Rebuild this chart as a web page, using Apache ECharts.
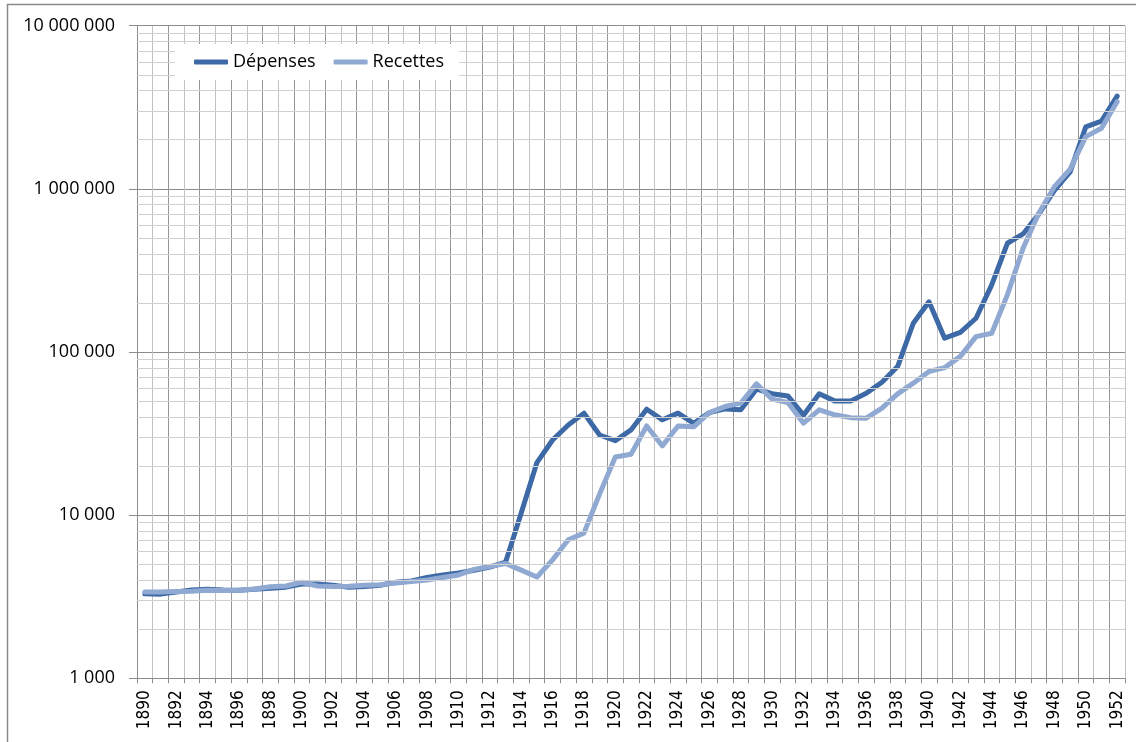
<!DOCTYPE html>
<html>
<head>
<meta charset="utf-8">
<style>
  html, body { margin: 0; padding: 0; background: #fff; }
  #chart { width: 1136px; height: 742px; }
</style>
<script src="https://cdn.jsdelivr.net/npm/echarts@6/dist/echarts.min.js"></script>
</head>
<body>
<div id="chart"></div>
<script>
// Années 1890–1952
const years = [];
for (let y = 1890; y <= 1952; y++) years.push(String(y));

// Dépenses publiques (échelle logarithmique)
const depenses = [
  3300, 3280, 3380, 3480, 3520, 3480, 3470, 3520, 3560, 3620,
  3780, 3780, 3720, 3620, 3650, 3720, 3880, 3950, 4150, 4300,
  4420, 4600, 4800, 5150, 10300, 21000, 28900, 35700, 42200, 31000,
  28600, 33300, 44600, 38400, 42200, 36500, 42500, 44800, 44200, 59200,
  55500, 53800, 41000, 55400, 50000, 50000, 55900, 65300, 81400, 150000,
  203000, 121500, 132000, 161000, 258000, 464000, 529000, 700000, 980000, 1270000,
  2400000, 2600000, 3700000
];

// Recettes publiques
const recettes = [
  3380, 3380, 3400, 3420, 3460, 3450, 3460, 3530, 3640, 3680,
  3880, 3680, 3650, 3660, 3720, 3740, 3840, 3920, 4000, 4150,
  4300, 4650, 4850, 5050, 4600, 4180, 5320, 7060, 7760, 13500,
  22700, 23600, 35200, 26600, 35200, 34800, 42500, 46300, 48600, 63800,
  51400, 49000, 36600, 44200, 41200, 39600, 39300, 45300, 55400, 64400,
  75900, 80200, 94000, 124300, 130400, 223800, 432500, 708000, 1031000, 1320000,
  2090000, 2350000, 3420000
];

const seriesNames = ['Dépenses', 'Recettes'];
const yMin = 1000, yMax = 10000000;

// Lignes secondaires du quadrillage logarithmique : 2..9 × 10^k
const minorLevels = [];
for (let d = yMin; d < yMax; d *= 10) {
  for (let m = 2; m <= 9; m++) minorLevels.push(d * m);
}

function spaced(v) {
  return String(Math.round(v)).replace(/\B(?=(\d{3})+(?!\d))/g, ' ');
}

const chart = echarts.init(document.getElementById('chart'), null, { renderer: 'canvas' });

chart.setOption({
  animation: false,
  backgroundColor: '#ffffff',
  graphic: [{
    type: 'rect',
    shape: { x: 7.5, y: 4.5, width: 1140, height: 760 },
    style: { fill: 'none', stroke: '#8a8a8a', lineWidth: 1.5 },
    silent: true,
    z: -10
  }],
  grid: { left: 137, right: 11, top: 25.7, bottom: 63.7, containLabel: false },
  legend: {
    data: seriesNames,
    left: 175,
    top: 44,
    padding: [9, 15, 9, 19],
    backgroundColor: '#ffffff',
    itemGap: 18,
    itemWidth: 34,
    itemHeight: 5,
    icon: 'roundRect',
    textStyle: { fontFamily: 'Open Sans', fontSize: 18, color: '#000', padding: [2, 0, 0, 0] },
    z: 20
  },
  xAxis: {
    type: 'category',
    data: years,
    boundaryGap: true,
    axisLine: { show: true, lineStyle: { color: '#8c8c8c', width: 1 } },
    axisTick: { show: true, interval: 0, length: 5, lineStyle: { color: '#8c8c8c' } },
    splitLine: { show: true, interval: 0, lineStyle: { color: ['#969696', '#c2c2c2'], width: 1 } },
    axisLabel: {
      interval: 1,
      rotate: 90,
      margin: 12,
      fontFamily: "'Liberation Sans Narrow', 'DejaVu Sans Condensed', 'Liberation Sans'",
      fontSize: 17,
      color: '#000'
    }
  },
  yAxis: {
    type: 'log',
    logBase: 10,
    min: yMin,
    max: yMax,
    splitNumber: 4,
    axisLine: { show: true, lineStyle: { color: '#8c8c8c', width: 1 } },
    axisTick: { show: true, length: 8, lineStyle: { color: '#8c8c8c' } },
    splitLine: { show: true, lineStyle: { color: '#8c8c8c', width: 1 } },
    axisLabel: {
      margin: 22,
      fontFamily: 'Open Sans',
      fontSize: 18,
      color: '#000',
      formatter: spaced
    }
  },
  series: [
    {
      name: 'quadrillage',
      type: 'line',
      data: [],
      silent: true,
      z: 1,
      markLine: {
        silent: true,
        symbol: ['none', 'none'],
        label: { show: false },
        lineStyle: { color: '#d0d0d0', width: 1, type: 'solid' },
        emphasis: { disabled: true },
        data: minorLevels.map(v => ({ yAxis: v }))
      }
    },
    {
      name: seriesNames[0],
      type: 'line',
      data: depenses,
      showSymbol: false,
      symbol: 'none',
      z: 3,
      lineStyle: { color: '#3d6aa6', width: 5, join: 'round', cap: 'round' },
      itemStyle: { color: '#3d6aa6' }
    },
    {
      name: seriesNames[1],
      type: 'line',
      data: recettes,
      showSymbol: false,
      symbol: 'none',
      z: 4,
      lineStyle: { color: '#8fa9d3', width: 5, join: 'round', cap: 'round' },
      itemStyle: { color: '#8fa9d3' }
    }
  ]
});
</script>
</body>
</html>
